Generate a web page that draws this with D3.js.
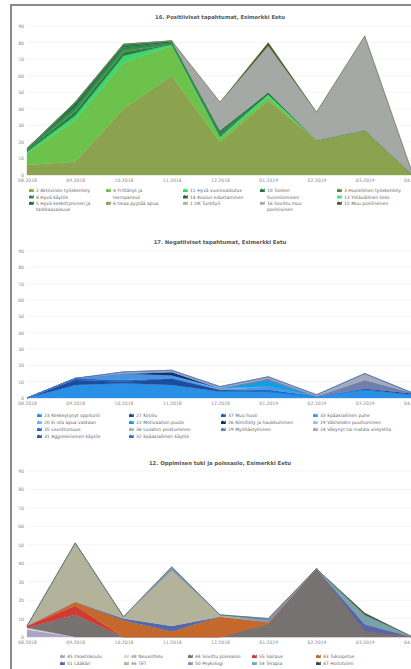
<html>
<head>
<meta charset="utf-8">
<style>
body { margin:0; background:#ffffff; overflow:hidden; }
svg { display:block; font-family:"DejaVu Sans", Verdana, sans-serif; }
</style>
<script src="https://cdnjs.cloudflare.com/ajax/libs/d3/7.8.5/d3.min.js"></script>
</head>
<body>
<svg id="page" width="411" height="669"></svg>
<script>

// shared axis values
var months = ["08.2018","09.2018","10.2018","11.2018","12.2018","01.2019","02.2019","03.2019","04.2019"];
var yTicks = [0,10,20,30,40,50,60,70,80,90];

// 16. Positiiviset tapahtumat (stack order, bottom -> top). "\n" = line break in legend
var posTitle = "16. Positiiviset tapahtumat, Esimerkki Eetu";
var posNames = ["2 Aktiivinen työskentely","4 Yrittänyt ja\ntsempannut","11 Hyvä vuorovaikutus","10 Toisten\nhuomioiminen","3 Huolellinen työskentely",
  "8 Hyvä käytös","14 Koulun edustaminen","13 Ystävällinen teko","5 Hyvä keskittyminen ja\ntarkkaavaisuus","6 Osaa pyytää apua",
  "1 OK Tuntityö","16 Sovittu muu\npositiivinen","15 Muu positiivinen"];
var posColors = ["#8ba34f","#6cc24a","#3ed673","#237a3b","#4e8a3a","#2e8b50","#1e6b3a","#58d68d","#17693a","#7fa04a","#a9b0a0","#a5a9a5","#4b5a25"];
var posValues = [
  [6, 8, 40, 60, 20, 45, 21, 27, 0],
  [7, 25, 28, 18, 2, 2, 0, 0, 0],
  [1, 3, 4, 1, 1, 2, 0, 0, 0],
  [1, 2, 2, 0, 1, 0, 0, 0, 0],
  [0, 1, 1, 0, 0, 0, 0, 0, 0],
  [1, 2, 2, 1, 1, 0, 0, 0, 0],
  [0, 2, 1, 1, 1, 1, 0, 0, 0],
  [0, 0, 0, 0, 0, 0, 0, 0, 0],
  [0, 1, 1, 0, 1, 0, 0, 0, 0],
  [0, 0, 0, 0, 0, 0, 0, 0, 0],
  [0, 0, 0, 0, 0, 0, 0, 0, 0],
  [0, 0, 0, 0, 17, 28, 17, 57, 0],
  [0, 0, 0, 0, 0, 2, 0, 0, 0]
];

// 17. Negatiiviset tapahtumat
var negTitle = "17. Negatiiviset tapahtumat, Esimerkki Eetu";
var negNames = ["23 Keskeytynyt oppitunti","27 Kiroilu","37 Muu huoli","33 Epäasiallinen puhe",
  "20 Ei ota apua vastaan","22 Motivaation puute","26 Nimittely ja haukkuminen","19 Välineiden puuttuminen",
  "35 Levottomuus","36 Luvaton poistuminen","29 Myöhästyminen","24 Väsynyt tai matala vireystila",
  "31 Aggressiivinen käytös","32 Epäasiallinen käytös"];
var negColors = ["#2a90e6","#1d4c9c","#1565c0","#4a92e4","#6cb4f0","#129ee0","#10306e","#8ec3f0",
  "#3a64b8","#a9abc8","#6f7fae","#a3a9bb","#2c5aa0","#3b6fcc"];
var negValues = [
  [0, 8, 9, 8, 4, 4, 1, 5, 2],
  [0, 3, 1, 4, 1, 0, 0, 1, 1],
  [0, 1, 1, 0, 0, 1, 0, 0, 0],
  [0, 0, 4, 2, 0, 2, 0, 0, 0],
  [0, 0, 0, 0, 1, 0, 0, 0, 0],
  [0, 0, 0, 0, 0, 4, 0, 0, 0],
  [0, 0, 0, 2, 0, 0, 0, 0, 0],
  [0, 0, 0, 0, 0, 0, 0, 0, 0],
  [0, 0, 0, 0, 0, 0, 0, 0, 0],
  [0, 0, 0, 0, 0, 0, 0, 0, 0],
  [0, 0, 0, 0, 0, 1, 0, 5, 0],
  [0, 0, 1, 1, 1, 1, 1, 4, 0],
  [0, 0, 0, 0, 0, 0, 0, 0, 0],
  [0, 0, 0, 0, 0, 0, 0, 0, 0]
];

// 12. Oppimisen tuki ja poissaolo
var supTitle = "12. Oppimisen tuki ja poissaolo, Esimerkki Eetu";
var supNames = ["45 Osastokoulu","48 Neuvottelu","44 Sovittu poissaolo","55 Sairaus","43 Tukiopetus",
  "51 Lääkäri","46 TET","50 Psykologi","54 Terapia","47 Hoitotoimi"];
var supColors = ["#aaa4c6","#dcd6ca","#767272","#d03a34","#c4692b","#5667a8","#b2b39a","#7f95b5","#78a3a8","#3c4a3e"];
var supValues = [
  [4, 0, 0, 0, 0, 0, 0, 0, 0],
  [1, 0, 0, 0, 0, 0, 0, 0, 0],
  [0, 12, 0, 0, 0, 7, 37, 3, 0],
  [1, 5, 0, 0, 0, 0, 0, 0, 0],
  [0, 2, 9, 3, 11, 1, 0, 0, 0],
  [0, 0, 1, 3, 0, 0, 0, 4, 0],
  [0, 32, 1, 30, 1, 0, 0, 0, 0],
  [0, 0, 0, 2, 0, 2, 0, 0, 0],
  [0, 0, 0, 0, 0, 0, 0, 5, 0],
  [0, 0, 0, 0, 0, 0, 0, 1, 0]
];

var svg = d3.select("#page");

// outer frame of the page
svg.append("rect").attr("x",11).attr("y",5).attr("width",520).attr("height",700)
  .attr("fill","#ffffff").attr("stroke","#8a8a8a").attr("stroke-width",2);

var x = d3.scalePoint().domain(months).range([27,413]);

function drawChart(title, names, colors, values, lay) {
	var g = svg.append("g");
	var y = d3.scaleLinear().domain([0,90]).range([lay.y0, lay.y90]);

	g.append("text").text(title).attr("x",220).attr("y",lay.titleY).attr("text-anchor","middle")
		.style("font-size","5.3px").style("font-weight","bold").attr("fill","#555555");

	// grid
	g.selectAll("line.grid").data(yTicks).join("line").attr("class","grid")
		.attr("x1",27).attr("x2",420).attr("y1",function(d){return y(d);}).attr("y2",function(d){return y(d);})
		.attr("stroke","#ececec").attr("stroke-width",0.6);

	// stacked areas
	var rows = months.map(function(m,i) {
		var r = {month:m};
		names.forEach(function(n,k){ r[n] = values[k][i]; });
		return r;
	});
	var stacked = d3.stack().keys(names)(rows);
	var area = d3.area().x(function(d){return x(d.data.month);})
		.y0(function(d){return y(d[0]);}).y1(function(d){return y(d[1]);});
	g.selectAll("path.area").data(stacked).join("path").attr("class","area")
		.attr("d",area).attr("fill",function(d,i){return colors[i];})
		.attr("stroke",function(d,i){return colors[i];}).attr("stroke-width",0.3);

	// axes
	var yAxis = d3.axisLeft(y).tickValues(yTicks).tickSize(0).tickPadding(3);
	var ya = g.append("g").attr("transform","translate(27,0)").call(yAxis);
	ya.select(".domain").remove();
	var xAxis = d3.axisBottom(x).tickSize(0).tickPadding(4);
	var xa = g.append("g").attr("transform","translate(0,"+lay.y0+")").call(xAxis);
	xa.select(".domain").remove();
	g.selectAll(".tick text").style("font-size","4.6px").style("font-family","'DejaVu Sans', Verdana, sans-serif").attr("fill","#8a8a8a");

	// legend: fill columns row by row, wrapped labels take extra lines
	var next = d3.range(lay.cols).map(function(){return 0;});
	names.forEach(function(n,k) {
		var c = next.indexOf(d3.min(next));
		var lines = n.split("\n");
		var lx = lay.legX + c*lay.colW, ly = lay.legY + next[c]*lay.lineH;
		var item = g.append("g").attr("transform","translate("+lx+","+ly+")");
		item.append("path").attr("d","M0,0L0,-2.2L1.6,-3.4L3.2,-2.2L4.8,-3.6L4.8,0Z").attr("fill",colors[k]);
		var t = item.append("text").attr("x",7).attr("y",0.3).style("font-size","4.5px").attr("fill","#666666");
		lines.forEach(function(s,j){ t.append("tspan").attr("x",7).attr("dy", j ? lay.lineH : 0).text(s); });
		next[c] += lines.length;
	});
}

drawChart(posTitle, posNames, posColors, posValues,
	{titleY:19, y90:26, y0:175, legX:29, legY:192, colW:77, cols:5, lineH:6.4});
drawChart(negTitle, negNames, negColors, negValues,
	{titleY:244, y90:251, y0:398, legX:37, legY:417, colW:92, cols:4, lineH:7});
drawChart(supTitle, supNames, supColors, supValues,
	{titleY:465, y90:471, y0:637, legX:60, legY:658, colW:64, cols:5, lineH:7});

</script>
</body>
</html>
